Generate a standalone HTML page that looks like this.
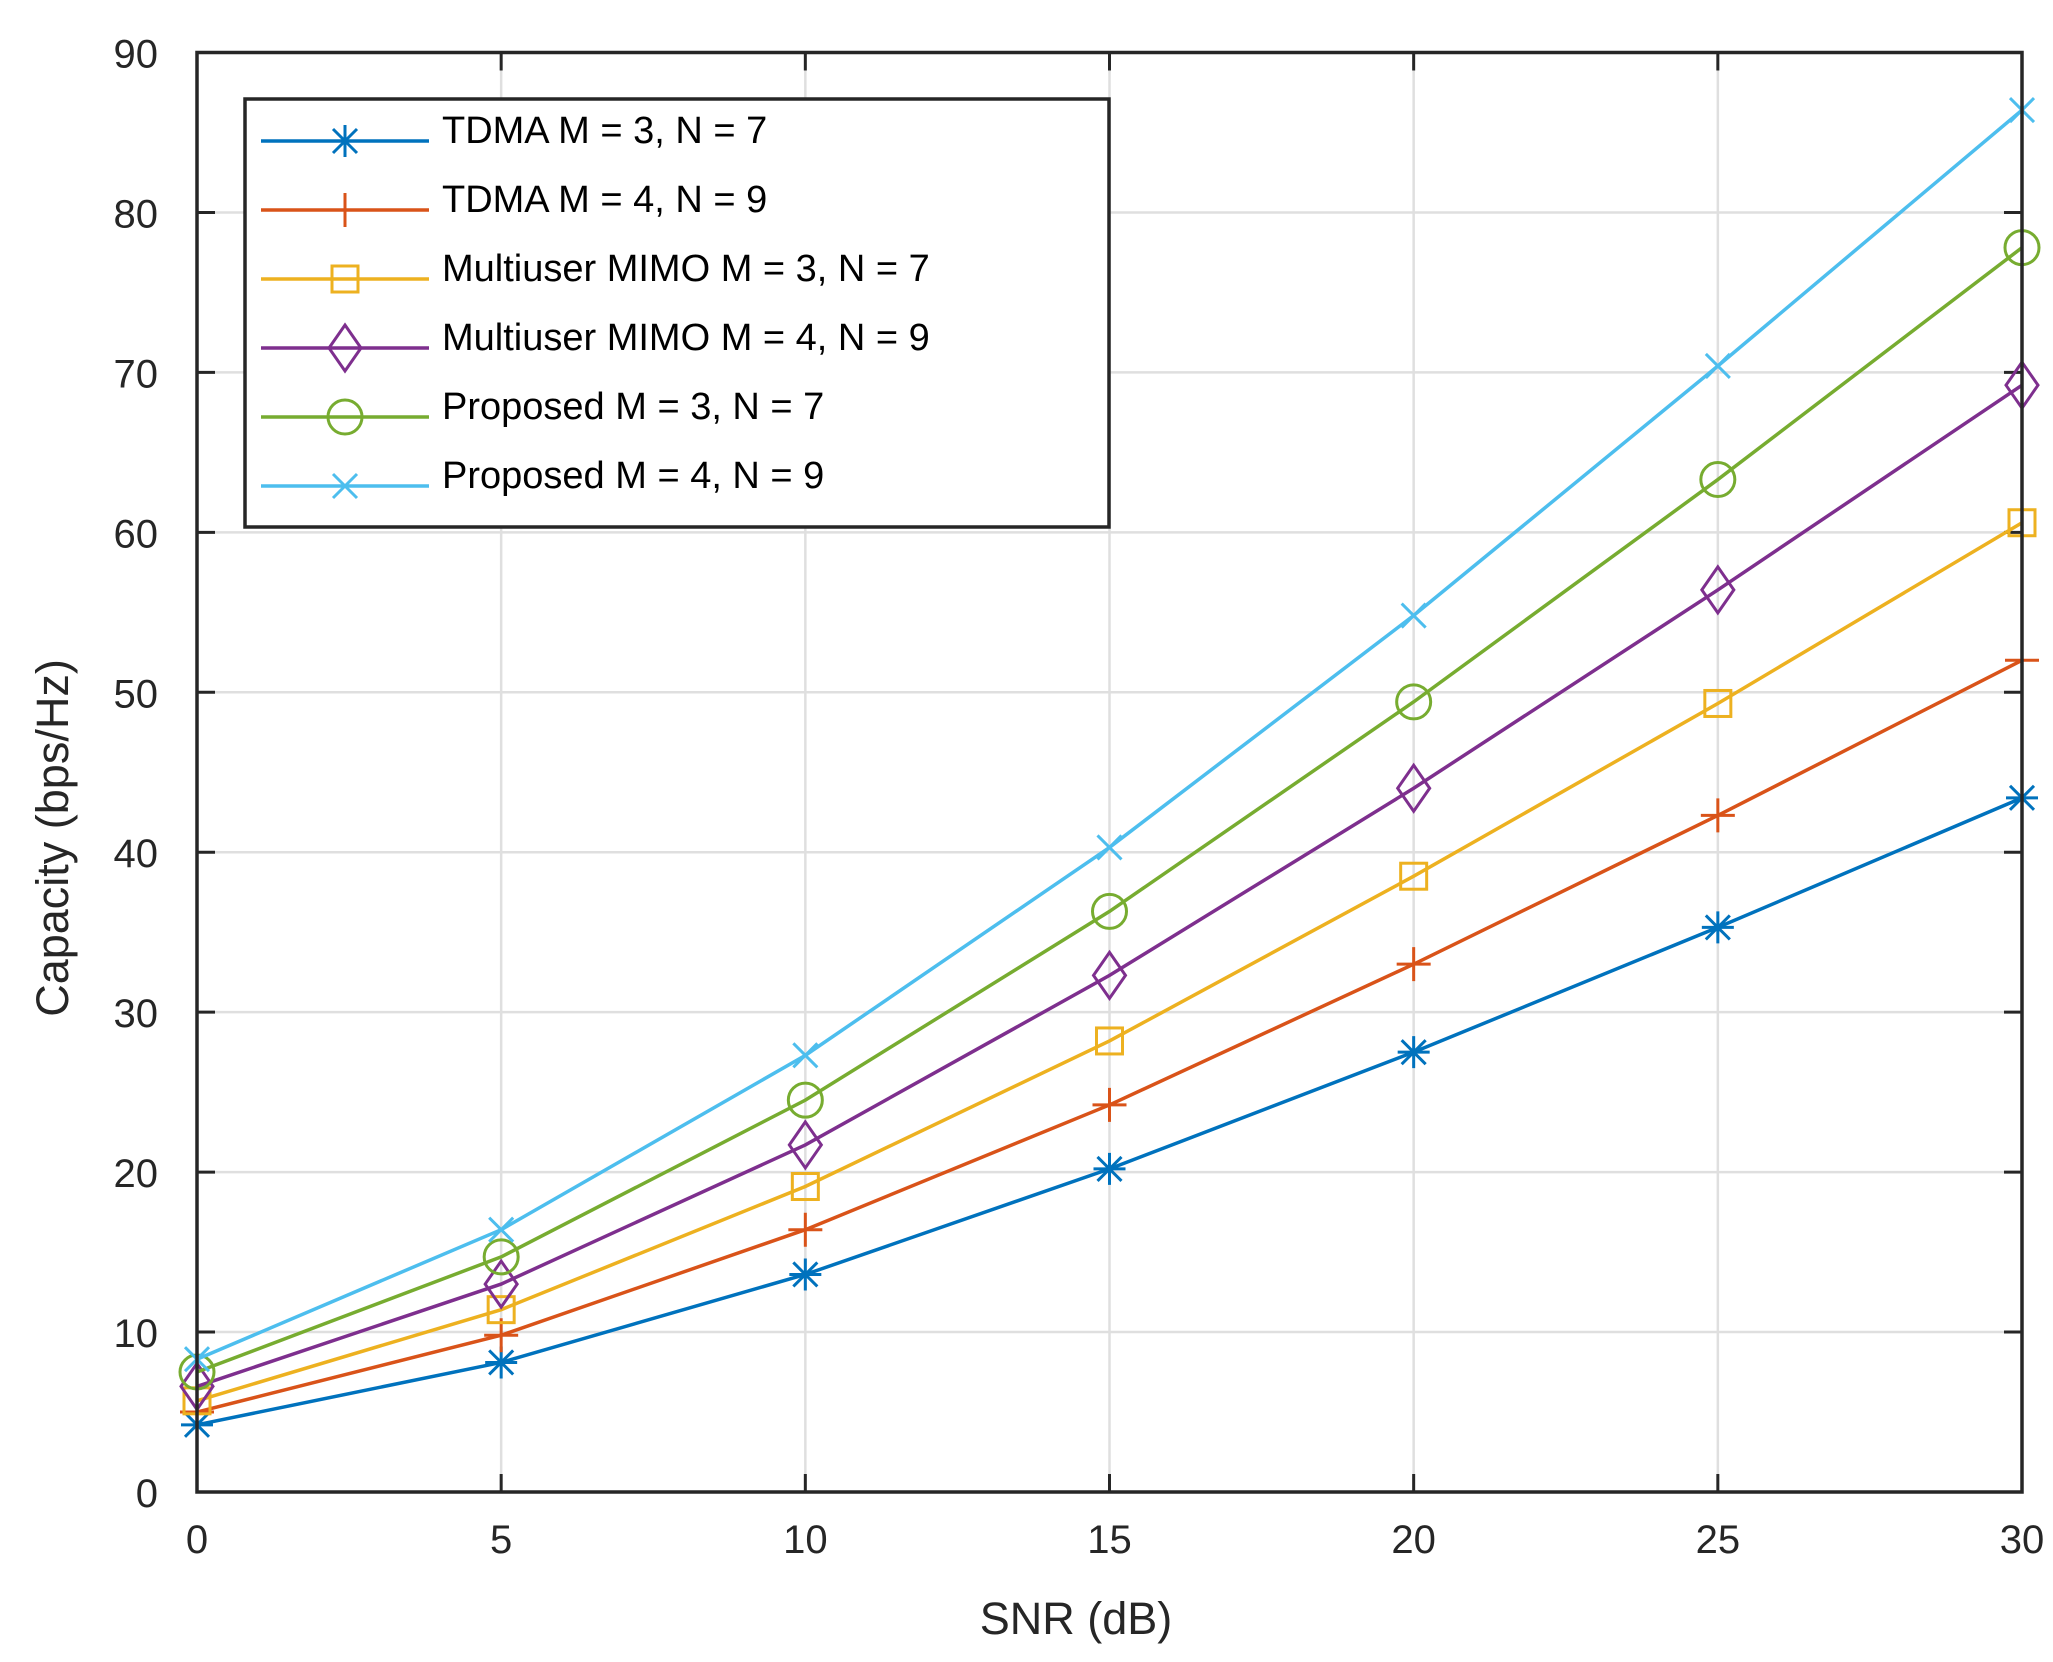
<!DOCTYPE html>
<html><head><meta charset="utf-8"><style>
html,body{margin:0;padding:0;background:#fff;}
svg{display:block;font-family:"Liberation Sans",Arial,sans-serif;}
</style></head><body>
<svg id="s" width="2053" height="1662" viewBox="0 0 2053 1662" xmlns="http://www.w3.org/2000/svg"></svg>
<script>
const S=document.getElementById('s');
const X0=197,X1=2022,Y0=1492,Y1=52.5;
const px=x=>X0+(X1-X0)*x/30, py=y=>Y0-(Y0-Y1)*y/90;
let h='<rect width="2053" height="1662" fill="#fff"/>';
for(let i=1;i<6;i++){const x=px(i*5);h+=`<line x1="${x}" y1="${Y1}" x2="${x}" y2="${Y0}" stroke="#dfdfdf" stroke-width="2.5"/>`;}
for(let i=1;i<9;i++){const y=py(i*10);h+=`<line x1="${X0}" y1="${y}" x2="${X1}" y2="${y}" stroke="#dfdfdf" stroke-width="2.5"/>`;}
for(let i=0;i<=6;i++){const x=px(i*5);h+=`<line x1="${x}" y1="${Y0}" x2="${x}" y2="${Y0-18}" stroke="#262626" stroke-width="3"/><line x1="${x}" y1="${Y1}" x2="${x}" y2="${Y1+18}" stroke="#262626" stroke-width="3"/>`;
h+=`<text x="${x}" y="1553" font-size="40" text-anchor="middle" fill="#262626">${i*5}</text>`;}
for(let i=0;i<=9;i++){const y=py(i*10);h+=`<line x1="${X0}" y1="${y}" x2="${X0+18}" y2="${y}" stroke="#262626" stroke-width="3"/><line x1="${X1}" y1="${y}" x2="${X1-18}" y2="${y}" stroke="#262626" stroke-width="3"/>`;
h+=`<text x="158" y="${y+15}" font-size="40" text-anchor="end" fill="#262626">${i*10}</text>`;}
const C=['#0072BD','#D95319','#EDB120','#7E2F8E','#77AC30','#4DBEEE'];
const D=[[4.2,8.1,13.6,20.2,27.5,35.3,43.4],[5.0,9.8,16.4,24.2,33.0,42.3,52.0],[5.7,11.4,19.1,28.2,38.5,49.3,60.6],[6.6,13.0,21.7,32.3,44.0,56.4,69.2],[7.5,14.7,24.5,36.3,49.4,63.3,77.8],[8.3,16.4,27.3,40.3,54.8,70.4,86.4]];
function mk(k,x,y,c){const s=`stroke="${c}" stroke-width="3" fill="none"`;
 if(k==0){const r=16;return `<path d="M${x-r} ${y}H${x+r}M${x} ${y-r}V${y+r}M${x-12} ${y-12}L${x+12} ${y+12}M${x-12} ${y+12}L${x+12} ${y-12}" ${s}/>`;}
 if(k==1){const r=17;return `<path d="M${x-r} ${y}H${x+r}M${x} ${y-r}V${y+r}" ${s}/>`;}
 if(k==2){const r=13;return `<rect x="${x-r}" y="${y-r}" width="${2*r}" height="${2*r}" ${s}/>`;}
 if(k==3){return `<path d="M${x} ${y-23}L${x+16} ${y}L${x} ${y+23}L${x-16} ${y}Z" ${s}/>`;}
 if(k==4){return `<circle cx="${x}" cy="${y}" r="17" ${s}/>`;}
 const r=12;return `<path d="M${x-r} ${y-r}L${x+r} ${y+r}M${x-r} ${y+r}L${x+r} ${y-r}" ${s}/>`;}
D.forEach((d,k)=>{h+=`<polyline points="${d.map((v,i)=>px(i*5)+','+py(v)).join(' ')}" fill="none" stroke="${C[k]}" stroke-width="3.5"/>`;
 d.forEach((v,i)=>h+=mk(k,px(i*5),py(v),C[k]));});
h+=`<rect x="${X0}" y="${Y1}" width="${X1-X0}" height="${Y0-Y1}" fill="none" stroke="#262626" stroke-width="3.5"/>`;
h+=`<rect x="245" y="99" width="864" height="428" fill="#fff" stroke="#262626" stroke-width="3.5"/>`;
const L=['TDMA M = 3, N = 7','TDMA M = 4, N = 9','Multiuser MIMO M = 3, N = 7','Multiuser MIMO M = 4, N = 9','Proposed M = 3, N = 7','Proposed M = 4, N = 9'];
L.forEach((t,k)=>{const y=141+k*69;h+=`<line x1="261" y1="${y}" x2="429" y2="${y}" stroke="${C[k]}" stroke-width="3.5"/>`+mk(k,345,y,C[k])+`<text x="442" y="${y+2}" font-size="38" fill="#000">${t}</text>`;});
h+=`<text x="1076" y="1634" font-size="45" text-anchor="middle" fill="#262626">SNR (dB)</text>`;
h+=`<text transform="translate(68,838) rotate(-90)" font-size="45" text-anchor="middle" fill="#262626">Capacity (bps/Hz)</text>`;
S.innerHTML=h;
</script>
</body></html>
